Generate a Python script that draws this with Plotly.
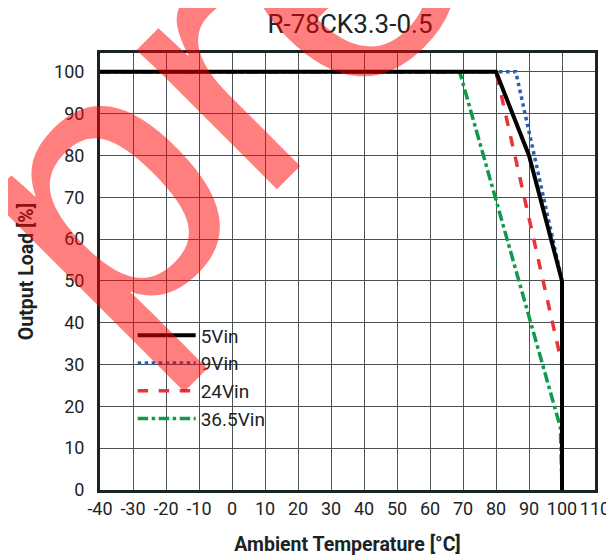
import plotly.graph_objects as go

title_text = "R-78CK3.3-0.5"
x_title = "Ambient Temperature [°C]"
y_title = "Output Load [%]"

names = ["5Vin", "9Vin", "24Vin", "36.5Vin"]
temps_5 = [-40, 80, 90, 100, 100]
load_5 = [100, 100, 80, 50, 0]
temps_9 = [-40, 86, 100, 100]
load_9 = [100, 100, 50, 0]
temps_24 = [-40, 80, 100, 100]
load_24 = [100, 100, 30, 0]
temps_36 = [-40, 69, 99.5, 100]
load_36 = [100, 100, 15, 0]

x_ticks = list(range(-40, 111, 10))
y_ticks = list(range(0, 101, 10))

watermark = "pre"

FONT = "Roboto, Liberation Sans, sans-serif"
DARK = "#1b2424"

fig = go.Figure()
fig.add_trace(go.Scatter(x=temps_9, y=load_9, name=names[1], mode="lines", legendrank=2,
                         line=dict(color="#2e5fad", width=3.5, dash="dot")))
fig.add_trace(go.Scatter(x=temps_24, y=load_24, name=names[2], mode="lines", legendrank=3,
                         line=dict(color="#e8343c", width=3.5, dash="dash")))
fig.add_trace(go.Scatter(x=temps_36, y=load_36, name=names[3], mode="lines", legendrank=4,
                         line=dict(color="#0f9a4b", width=3.5, dash="dashdot")))
fig.add_trace(go.Scatter(x=temps_5, y=load_5, name=names[0], mode="lines", legendrank=1,
                         line=dict(color="#000000", width=4)))

fig.update_layout(
    width=614, height=558,
    margin=dict(l=92, r=17, t=45, b=76),
    paper_bgcolor="white", plot_bgcolor="white",
    font=dict(family=FONT, color=DARK, size=18),
    title=dict(text=title_text, x=342/614, xanchor="center", y=1-16/558, yanchor="middle",
               xref="container", yref="container",
               font=dict(family=FONT, size=26, color=DARK)),
    showlegend=True,
    legend=dict(x=0.066, y=0.397, xanchor="left", yanchor="top",
                bgcolor="rgba(0,0,0,0)", borderwidth=0, itemwidth=58,
                traceorder="normal",
                font=dict(family=FONT, size=19, color=DARK)),
    xaxis=dict(range=[-40, 110], tickvals=x_ticks, ticktext=[str(v) for v in x_ticks],
               showgrid=True, gridcolor="#4a5252", gridwidth=1, zeroline=False,
               showline=True, mirror=True, linecolor=DARK, linewidth=3,
               ticks="", tickfont=dict(size=18),
               title=dict(text="<b>" + x_title + "</b>", font=dict(size=19.5), standoff=20)),
    yaxis=dict(range=[0, 104.5], tickvals=y_ticks,
               showgrid=True, gridcolor="#4a5252", gridwidth=1, zeroline=False,
               showline=True, mirror=True, linecolor=DARK, linewidth=3,
               ticks="", tickfont=dict(size=18), ticklabelstandoff=9,
               title=dict(text="<b>" + y_title + "</b>", font=dict(size=19.5), standoff=16)),
)

# white legend box covering the gridlines (drawn between grid and traces)
fig.add_shape(type="rect", xref="paper", yref="paper",
              x0=(120 - 92) / 505, x1=(280 - 92) / 505,
              y0=(482 - 435) / 437, y1=(482 - 320) / 437,
              fillcolor="white", line=dict(width=0), layer="between")

fig.add_annotation(text=watermark, xref="paper", yref="paper",
                   x=(206 - 92) / 505, y=(482 - 64) / 437,
                   xanchor="center", yanchor="middle", showarrow=False,
                   textangle=-45,
                   font=dict(family="Liberation Sans, Arial, sans-serif", size=374,
                             color="rgba(255,0,0,0.5)"))

fig.write_html("out.html")
